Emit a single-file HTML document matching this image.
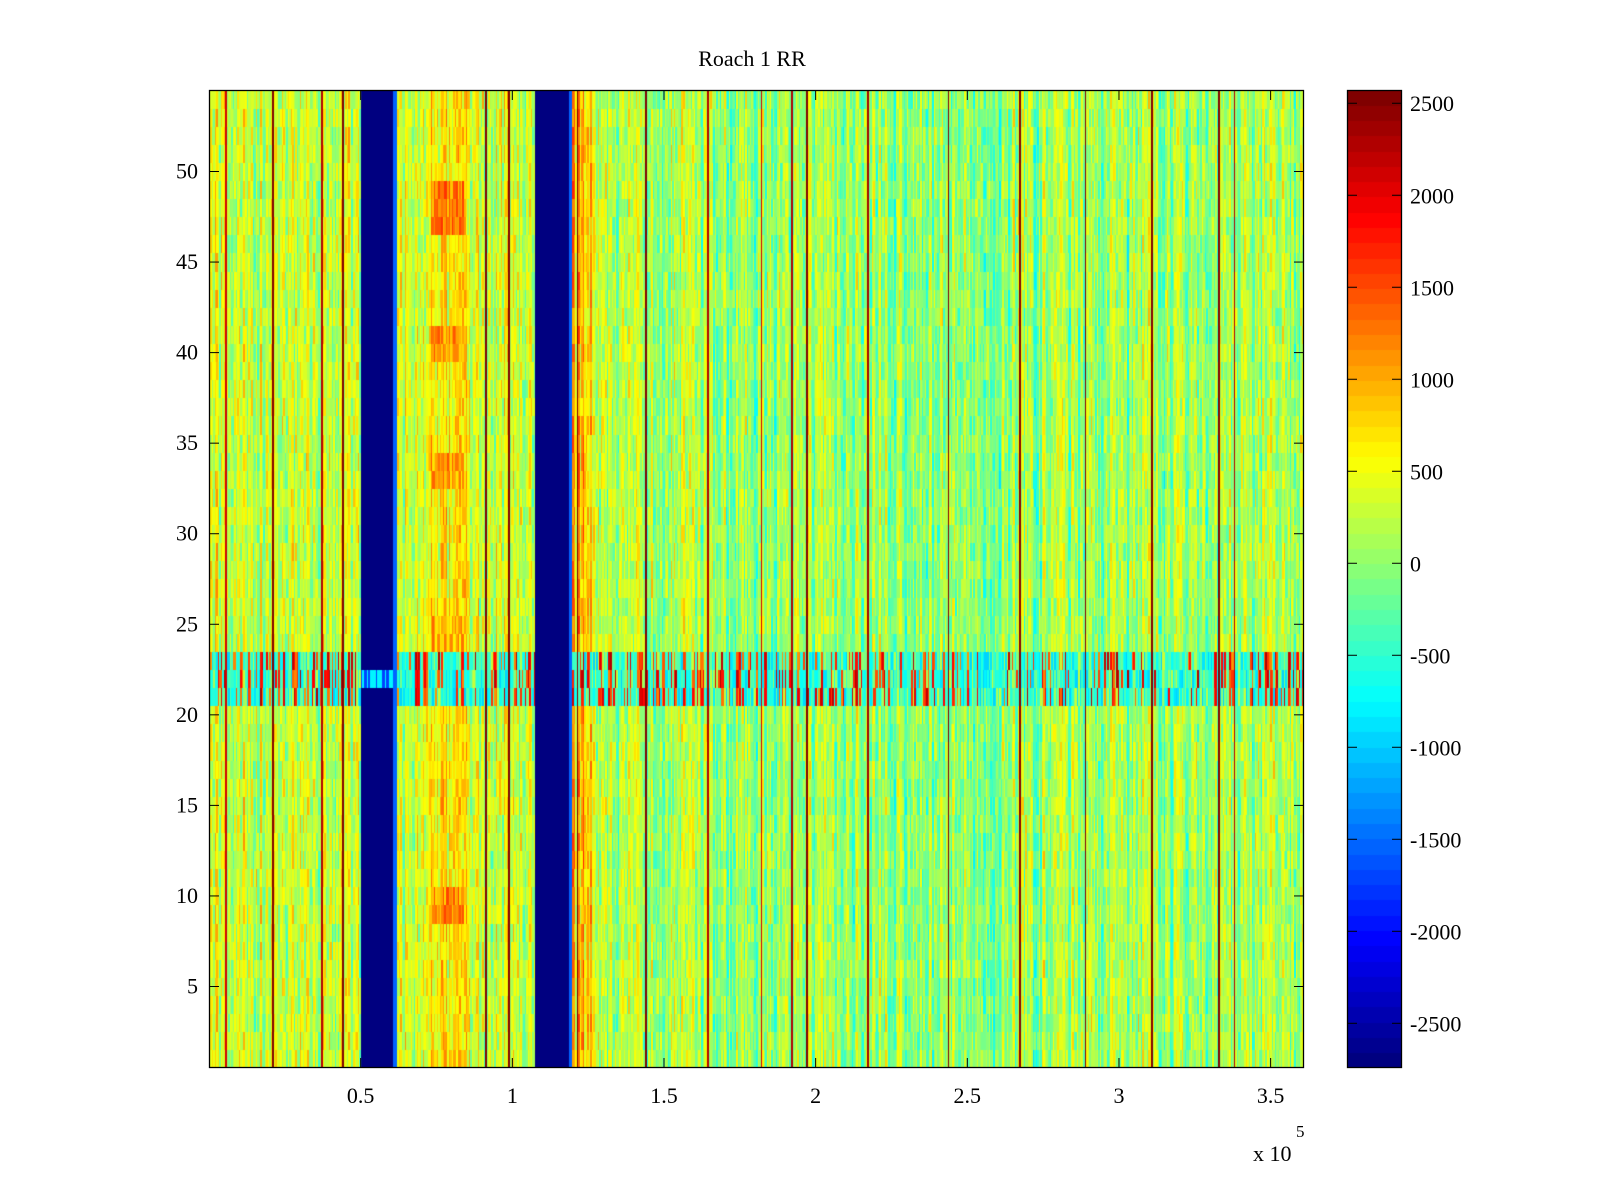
<!DOCTYPE html>
<html><head><meta charset="utf-8">
<style>
body{margin:0;background:#fff;width:1600px;height:1200px;position:relative;overflow:hidden;font-family:"Liberation Serif",serif;color:#000}
.t{position:absolute;font-size:22px;line-height:22px;white-space:nowrap}
svg{position:absolute;left:0;top:0}
</style></head><body>
<div class="t" style="left:752px;top:48px;transform:translateX(-50%)">Roach 1 RR</div>
<canvas id="hm" width="1095" height="978" style="position:absolute;left:209px;top:90px"></canvas>
<canvas id="cb" width="55" height="978" style="position:absolute;left:1347px;top:90px"></canvas>
<svg id="ov" width="1600" height="1200"></svg>
<div class="t" style="left:1253px;top:1143px">x 10</div>
<div class="t" style="left:1296px;top:1121px;font-size:17px">5</div>
<script>
// ---- data (x in units of 1e5, y rows 1..54, values in colour units) ----
const xMin = 0, xMax = 3.61, yMin = 0.5, yMax = 54.5;
const cMin = -2743, cMax = 2572;
const nCols = 720, nRows = 54;
const segStarts = [0.0, 0.5, 0.62, 0.73, 0.85, 1.08, 1.20, 1.27, 1.6, 2.5];
const segBase   = [280, -2743, 380, 650, 300, -2743, 850, 120, 50, 40];
const stripes   = [0.0, 0.059, 0.211, 0.373, 0.445, 0.917, 0.992, 1.217, 1.441, 1.645, 1.823, 1.922, 1.972, 2.176, 2.437, 2.674, 2.892, 3.112, 3.330, 3.383];
const stripeVals= [2500, 2100, 2500, 2300, 2500, 2500, 2500, 2500, 2500, 2300, 2100, 2300, 2550, 2400, 2550, 2550, 2550, 2550, 2550, 2300];
const hotX0 = [0.73, 0.73, 0.73, 0.73, 0.73];
const hotX1 = [0.84, 0.84, 0.84, 0.84, 0.84];
const hotRow0 = [47, 40, 33, 9, 24];
const hotRow1 = [49, 41, 34, 10, 25];
const hotVal = [1250, 1050, 1050, 1150, 950];
const bandRows = [21, 22, 23];
const bandHigh = 1700, bandLow = -650;
const yTicks = [5,10,15,20,25,30,35,40,45,50];
const xTicks = [0.5,1,1.5,2,2.5,3,3.5];
const xTickLabels = ["0.5","1","1.5","2","2.5","3","3.5"];
const cTicks = [2500,2000,1500,1000,500,0,-500,-1000,-1500,-2000,-2500];

// ---- geometry ----
const PL=209, PR=1304, PT=90, PB=1068, CBL=1347, CBR=1402;
const sx = v => PL + (v - xMin)/(xMax - xMin)*(PR-PL);
const sy = v => PT + (yMax - v)/(yMax - yMin)*(PB-PT);
const sc = v => PT + (cMax - v)/(cMax - cMin)*(PB-PT);

function jet(t){
  t = Math.max(0, Math.min(1, t));
  t = Math.min(63, Math.floor(t*64))/63;
  const c = x => Math.round(255*Math.max(0, Math.min(1, 1.5 - Math.abs(x))));
  return [c(4*t-3), c(4*t-2), c(4*t-1)];
}
// deterministic texture hash
function h(a,b){ let x = Math.sin(a*127.1 + b*311.7)*43758.5453; return (x - Math.floor(x))*2 - 1; }

function cellValue(ci, r){
  const x = xMin + (ci+0.5)/nCols*(xMax-xMin);
  let s = 0; for (let i=0;i<segStarts.length;i++) if (x>=segStarts[i]) s=i;
  let base = segBase[s];
  const isBlue = base < -2000;
  const colN = h(ci, 7), rowBlock = Math.floor(r/3);
  let v = isBlue ? base : base + 450*colN + 350*h(ci, r*13+1) + 150*h(ci, rowBlock*5+3);
  if (!isBlue) for (let k=0;k<hotX0.length;k++)
    if (x>=hotX0[k] && x<=hotX1[k] && r>=hotRow0[k] && r<=hotRow1[k]) v = hotVal[k] + 400*h(ci,r);
  if (bandRows.indexOf(r) >= 0){
    if (!isBlue || r===22 && segStarts[s]===0.5){
      const q = h(ci, 99) + 0.5*h(ci, r*3);
      if (q > 0.45) v = bandHigh + 600*h(ci,r+5);
      else if (q > -0.2) v = -200 + 500*h(ci,r+7);
      else v = bandLow + 350*h(ci,r+9);
      if (isBlue) v = v > 0 ? -800 : -1700;
    }
  }
  for (let k=0;k<stripes.length;k++){
    if (Math.abs(x - stripes[k]) < 0.5*(xMax-xMin)/nCols) v = stripeVals[k];
  }
  if (isBlue){
    const next = segStarts[s+1];
    if (next - x < 0.012) v = -1500;
  }
  return v;
}

const hm = document.getElementById('hm').getContext('2d');
for (let r=1;r<=nRows;r++){
  const y0 = sy(r+0.5)-PT, y1 = sy(r-0.5)-PT;
  for (let ci=0;ci<nCols;ci++){
    const v = cellValue(ci, r);
    const [R,G,B] = jet((v-cMin)/(cMax-cMin));
    hm.fillStyle = `rgb(${R},${G},${B})`;
    const x0 = ci/nCols*(PR-PL), x1 = (ci+1)/nCols*(PR-PL);
    hm.fillRect(Math.floor(x0), Math.floor(y0), Math.ceil(x1)-Math.floor(x0), Math.ceil(y1)-Math.floor(y0));
  }
}
const cb = document.getElementById('cb').getContext('2d');
for (let i=0;i<64;i++){
  const v0 = cMin + i/64*(cMax-cMin), v1 = cMin + (i+1)/64*(cMax-cMin);
  const [R,G,B] = jet((i+0.5)/64);
  cb.fillStyle = `rgb(${R},${G},${B})`;
  const ya = sc(v1)-PT, yb = sc(v0)-PT;
  cb.fillRect(0, Math.floor(ya), 55, Math.ceil(yb)-Math.floor(ya));
}

const NS='http://www.w3.org/2000/svg', ov=document.getElementById('ov');
function el(tag, attrs, txt){ const e=document.createElementNS(NS,tag); for(const k in attrs) e.setAttribute(k,attrs[k]); if(txt!==undefined) e.textContent=txt; ov.appendChild(e); return e; }
let e;
e = el('rect',{x:PL+0.5,y:PT+0.5,width:PR-PL-1,height:PB-PT-1,fill:'none',stroke:'#000','stroke-width':1.3});


e = el('rect',{x:CBL+0.5,y:PT+0.5,width:CBR-CBL-1,height:PB-PT-1,fill:'none',stroke:'#000','stroke-width':1.3});


yTicks.forEach(v=>{
  const y=sy(v);
  el('line',{x1:PL,x2:PL+10,y1:y,y2:y,stroke:'#000'});
  el('line',{x1:PR-10,x2:PR,y1:y,y2:y,stroke:'#000'});
  e = el('text',{x:198,y:y+7,'text-anchor':'end','font-size':22,'font-family':'Liberation Serif, serif'},String(v));
  
  
});
xTicks.forEach((v,i)=>{
  const x=sx(v);
  el('line',{x1:x,x2:x,y1:PB-10,y2:PB,stroke:'#000'});
  el('line',{x1:x,x2:x,y1:PT,y2:PT+10,stroke:'#000'});
  e = el('text',{x:x,y:1103,'text-anchor':'middle','font-size':22,'font-family':'Liberation Serif, serif'},xTickLabels[i]);
  
  
});
cTicks.forEach(v=>{
  const y=sc(v);
  el('line',{x1:CBL,x2:CBL+10,y1:y,y2:y,stroke:'#000'});
  el('line',{x1:CBR-10,x2:CBR,y1:y,y2:y,stroke:'#000'});
  e = el('text',{x:1410,y:y+8,'font-size':22,'font-family':'Liberation Serif, serif'},String(v));
  
  
});
</script>
</body></html>
